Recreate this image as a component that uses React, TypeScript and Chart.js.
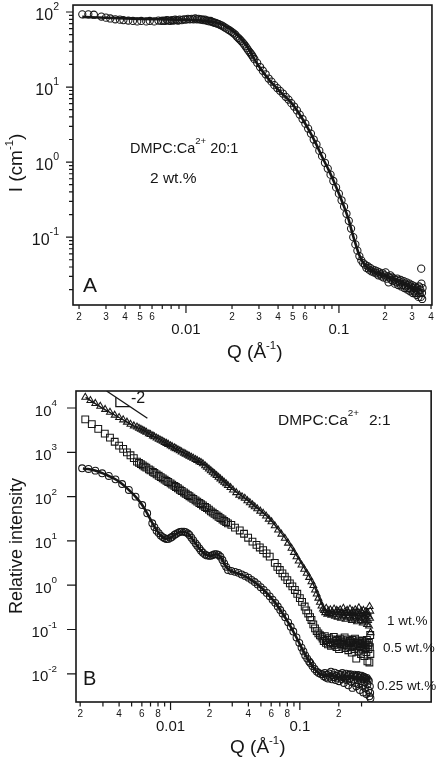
import React, { useEffect, useRef } from 'react';
import { Chart, registerables } from 'chart.js';

Chart.register(...registerables);

const INK = '#161616';
const FONT = '"Liberation Sans", Arial, Helvetica, sans-serif';

// ---------------- Panel A data: Q (1/Å), I (1/cm) ----------------
const A_DATA: [number, number][] = [
  [0.0021, 93], [0.0023, 93], [0.0025, 92], [0.0028, 87], [0.003, 84], [0.0032, 82], [0.00345, 80], [0.0037, 79],
  [0.0039, 78], [0.0042, 77], [0.0045, 76], [0.0048, 75], [0.0051, 76], [0.0055, 75], [0.0058, 76], [0.0062, 75],
  [0.0066, 77], [0.0069, 76], [0.0071, 77], [0.0073, 76], [0.0075, 78], [0.0077, 77], [0.0079, 76], [0.0081, 78],
  [0.0083, 77], [0.0085, 79], [0.0087, 78], [0.0089, 77], [0.0091, 79], [0.0094, 78], [0.0097, 80], [0.01, 79],
  [0.0103, 81], [0.0106, 80], [0.0109, 81], [0.0112, 80], [0.0115, 82], [0.0118, 80], [0.0121, 81], [0.0124, 79],
  [0.0127, 80], [0.013, 78], [0.0133, 79], [0.0136, 77], [0.0139, 77], [0.0142, 75], [0.0145, 76], [0.0148, 74],
  [0.0151, 73], [0.0154, 72], [0.0157, 71], [0.016, 70], [0.0164, 69], [0.0168, 67], [0.0172, 66], [0.0176, 64],
  [0.018, 62], [0.0185, 60], [0.019, 58], [0.0195, 56], [0.02, 54], [0.0205, 52], [0.021, 50], [0.0215, 47],
  [0.022, 45], [0.0225, 43], [0.023, 41], [0.0235, 39], [0.024, 37], [0.0245, 35], [0.025, 33], [0.0255, 31],
  [0.026, 29.5], [0.0265, 28], [0.027, 26.5], [0.0275, 25], [0.028, 23.5],
  [0.0292, 21], [0.0305, 18.5], [0.0318, 16.5], [0.0332, 14.8], [0.0347, 13], [0.0362, 11.8], [0.0378, 10.6],
  [0.0395, 9.7], [0.0412, 8.9], [0.043, 8.2], [0.0449, 7.4], [0.0468, 6.8], [0.0488, 6.1], [0.0509, 5.5],
  [0.0531, 4.9], [0.0554, 4.3], [0.0578, 3.75], [0.0603, 3.25], [0.0629, 2.8], [0.0656, 2.4], [0.0684, 2.0],
  [0.0713, 1.72], [0.0744, 1.42], [0.0776, 1.2], [0.081, 0.98], [0.0845, 0.82], [0.0881, 0.68], [0.0919, 0.56],
  [0.0958, 0.46], [0.0999, 0.38], [0.104, 0.31], [0.108, 0.255], [0.112, 0.205], [0.116, 0.165], [0.12, 0.13],
  [0.124, 0.1], [0.128, 0.08], [0.132, 0.066], [0.136, 0.056], [0.14, 0.049], [0.144, 0.045],
  [0.148, 0.043], [0.151, 0.039], [0.154, 0.041], [0.157, 0.037], [0.16, 0.039], [0.163, 0.035], [0.166, 0.037],
  [0.169, 0.034], [0.172, 0.036], [0.175, 0.033], [0.178, 0.035], [0.181, 0.031], [0.184, 0.034], [0.187, 0.032],
  [0.19, 0.03], [0.193, 0.033], [0.196, 0.029], [0.199, 0.031], [0.202, 0.034], [0.205, 0.028], [0.208, 0.03],
  [0.211, 0.025], [0.214, 0.029], [0.217, 0.031], [0.22, 0.027], [0.223, 0.029], [0.226, 0.026], [0.229, 0.028],
  [0.232, 0.024], [0.235, 0.027], [0.238, 0.025], [0.241, 0.028], [0.244, 0.023], [0.247, 0.026], [0.25, 0.024],
  [0.253, 0.027], [0.256, 0.022], [0.259, 0.025], [0.262, 0.023], [0.265, 0.026], [0.268, 0.021], [0.271, 0.024],
  [0.274, 0.022], [0.277, 0.025], [0.28, 0.02], [0.283, 0.023], [0.286, 0.021], [0.289, 0.024], [0.292, 0.019],
  [0.295, 0.022], [0.298, 0.02], [0.301, 0.023], [0.304, 0.018], [0.307, 0.021], [0.31, 0.019], [0.313, 0.022],
  [0.316, 0.018], [0.319, 0.02], [0.322, 0.017], [0.325, 0.021], [0.328, 0.019], [0.331, 0.016], [0.334, 0.022],
  [0.337, 0.018], [0.34, 0.02], [0.343, 0.016], [0.346, 0.024], [0.349, 0.018], [0.352, 0.021], [0.345, 0.038],
  [0.35, 0.015],
];

const A_FIT: [number, number][] = [
  [0.0021, 86], [0.003, 84], [0.005, 81], [0.008, 79.5], [0.011, 78.5], [0.0125, 77], [0.014, 75], [0.0155, 72.5],
  [0.0166, 70], [0.018, 65], [0.0202, 56], [0.0225, 46], [0.0245, 37], [0.0261, 30.5], [0.0274, 25.5], [0.029, 21],
  [0.0303, 18.3], [0.033, 14.5], [0.0355, 12], [0.0388, 9.9], [0.043, 8], [0.0474, 6.6], [0.051, 5.5], [0.055, 4.4],
  [0.0625, 2.85], [0.0706, 1.78], [0.078, 1.15], [0.0861, 0.77], [0.093, 0.54], [0.1, 0.38], [0.108, 0.255],
  [0.116, 0.168], [0.122, 0.115], [0.128, 0.083], [0.134, 0.062], [0.141, 0.049], [0.15, 0.041], [0.164, 0.036],
  [0.18, 0.033], [0.2, 0.03], [0.25, 0.026], [0.3, 0.022], [0.35, 0.0195],
];

// ---------------- Panel B data: Q (1/Å), relative intensity ----------------
const B_1WT: [number, number][] = [
  [0.00219, 17500], [0.0024, 14800], [0.00262, 12700], [0.00286, 10900], [0.00312, 9300], [0.0034, 8000],
  [0.0037, 6900], [0.004, 6100], [0.0043, 5400], [0.0046, 4800], [0.0049, 4300], [0.0052, 3950],
  [0.0055, 3710], [0.0057, 3500], [0.0059, 3310], [0.0061, 3140], [0.0063, 2980], [0.0065, 2830], [0.0068, 2630],
  [0.007, 2510], [0.0073, 2350], [0.0075, 2250], [0.0078, 2110], [0.0081, 1980], [0.0084, 1870], [0.0087, 1770],
  [0.009, 1670], [0.0093, 1590], [0.0096, 1510], [0.01, 1410], [0.0103, 1340], [0.0107, 1260], [0.011, 1210],
  [0.0114, 1140], [0.0118, 1080], [0.0122, 1020], [0.0127, 957], [0.0131, 910], [0.0136, 856], [0.014, 817],
  [0.0145, 772], [0.015, 731], [0.0156, 686], [0.0161, 652], [0.0167, 614], [0.0172, 586], [0.0178, 549],
  [0.0185, 498], [0.0191, 460], [0.0198, 420], [0.0205, 385], [0.0212, 353], [0.0219, 326], [0.0227, 298],
  [0.0235, 273], [0.0243, 251], [0.0252, 229], [0.026, 211], [0.0269, 194], [0.0278, 178],
  [0.0291, 160], [0.0304, 141], [0.0322, 123], [0.034, 108], [0.0357, 99], [0.0375, 91.6], [0.0393, 81],
  [0.0411, 73], [0.043, 65], [0.0448, 59], [0.0468, 53], [0.0494, 47], [0.052, 42], [0.0548, 36.5], [0.0575, 31],
  [0.0604, 27], [0.064, 22], [0.0679, 17.6], [0.072, 14.2], [0.0765, 11.5], [0.081, 8.9], [0.0862, 6.8],
  [0.09, 5.5], [0.0942, 4.4], [0.098, 3.5], [0.103, 2.86], [0.108, 2.3], [0.113, 1.86], [0.118, 1.5],
  [0.123, 1.2], [0.127, 0.98], [0.131, 0.78], [0.135, 0.63], [0.139, 0.51], [0.143, 0.41], [0.147, 0.34],
  [0.151, 0.29],
  [0.154, 0.27], [0.157, 0.24], [0.16, 0.3], [0.163, 0.22], [0.166, 0.26], [0.169, 0.23], [0.172, 0.28],
  [0.175, 0.21], [0.178, 0.25], [0.181, 0.22], [0.184, 0.29], [0.187, 0.2], [0.19, 0.24], [0.193, 0.27],
  [0.196, 0.19], [0.199, 0.25], [0.202, 0.22], [0.205, 0.28], [0.208, 0.18], [0.211, 0.24], [0.214, 0.21],
  [0.217, 0.3], [0.22, 0.2], [0.223, 0.25], [0.226, 0.17], [0.229, 0.23], [0.232, 0.27], [0.235, 0.19],
  [0.238, 0.24], [0.241, 0.21], [0.244, 0.29], [0.247, 0.18], [0.25, 0.23], [0.253, 0.16], [0.256, 0.26],
  [0.259, 0.2], [0.262, 0.24], [0.265, 0.17], [0.268, 0.28], [0.271, 0.19], [0.274, 0.23], [0.277, 0.15],
  [0.28, 0.25], [0.283, 0.2], [0.286, 0.31], [0.289, 0.18], [0.292, 0.22], [0.295, 0.16], [0.298, 0.26],
  [0.301, 0.19], [0.304, 0.23], [0.307, 0.14], [0.31, 0.27], [0.313, 0.18], [0.316, 0.21], [0.319, 0.15],
  [0.322, 0.25], [0.325, 0.17], [0.328, 0.22], [0.331, 0.13], [0.334, 0.24], [0.337, 0.16], [0.34, 0.2],
  [0.343, 0.12], [0.346, 0.33], [0.349, 0.18], [0.352, 0.085], [0.35, 0.26],
];

const B_05WT: [number, number][] = [
  [0.00219, 5560], [0.00246, 4330], [0.00276, 3370], [0.0031, 2630], [0.0034, 2140], [0.0037, 1730],
  [0.004, 1420], [0.0043, 1190], [0.0046, 1000], [0.0049, 857], [0.0052, 738],
  [0.0055, 616], [0.0057, 576], [0.0059, 539], [0.0061, 506], [0.0063, 476], [0.0065, 449], [0.0068, 412],
  [0.007, 390], [0.0073, 360], [0.0075, 342], [0.0078, 317], [0.0081, 295], [0.0084, 276], [0.0087, 258],
  [0.009, 242], [0.0093, 227], [0.0096, 214], [0.01, 198], [0.0103, 187], [0.0107, 174], [0.011, 165],
  [0.0114, 154], [0.0118, 143], [0.0122, 134], [0.0127, 124], [0.0131, 116], [0.0136, 108], [0.014, 102],
  [0.0145, 95], [0.015, 88.7], [0.0156, 82], [0.0161, 77], [0.0167, 71.6], [0.0172, 67.5], [0.0178, 63],
  [0.0185, 58.3], [0.0191, 54.7], [0.0198, 50.9], [0.0205, 46.5], [0.0212, 43.4], [0.0219, 40.6], [0.0227, 37.7],
  [0.0235, 35], [0.0243, 32.7], [0.0252, 30.4], [0.026, 28.4], [0.0269, 26.5], [0.0278, 24.8],
  [0.0295, 23], [0.0315, 20], [0.0343, 17.2], [0.037, 14.5], [0.0398, 11.8], [0.043, 9.6], [0.0462, 8.1],
  [0.049, 7.1], [0.052, 6.2], [0.0553, 5.2], [0.0585, 4.4], [0.064, 3.2], [0.067, 2.6], [0.07, 2.2],
  [0.0733, 1.85], [0.0765, 1.56], [0.08, 1.3], [0.0837, 1.1], [0.0875, 0.94], [0.0915, 0.78], [0.0955, 0.64],
  [0.1, 0.51], [0.104, 0.42], [0.109, 0.33], [0.112, 0.27], [0.116, 0.23], [0.12, 0.19], [0.123, 0.164],
  [0.127, 0.13], [0.131, 0.106], [0.135, 0.092], [0.139, 0.082], [0.143, 0.074], [0.147, 0.069],
  [0.15, 0.062], [0.153, 0.055], [0.156, 0.071], [0.159, 0.05], [0.162, 0.058], [0.165, 0.046], [0.168, 0.064],
  [0.171, 0.052], [0.174, 0.043], [0.177, 0.06], [0.18, 0.049], [0.183, 0.068], [0.186, 0.045], [0.189, 0.055],
  [0.192, 0.04], [0.195, 0.058], [0.198, 0.05], [0.201, 0.036], [0.204, 0.062], [0.207, 0.047], [0.21, 0.053],
  [0.213, 0.041], [0.216, 0.057], [0.219, 0.045], [0.222, 0.066], [0.225, 0.038], [0.228, 0.051], [0.231, 0.044],
  [0.234, 0.06], [0.237, 0.034], [0.24, 0.049], [0.243, 0.055], [0.246, 0.04], [0.249, 0.052], [0.252, 0.03],
  [0.255, 0.058], [0.258, 0.043], [0.261, 0.05], [0.264, 0.036], [0.267, 0.062], [0.27, 0.045], [0.273, 0.022],
  [0.276, 0.053], [0.279, 0.039], [0.282, 0.048], [0.285, 0.033], [0.288, 0.057], [0.291, 0.042], [0.294, 0.05],
  [0.297, 0.028], [0.3, 0.046], [0.303, 0.055], [0.306, 0.035], [0.309, 0.049], [0.312, 0.041], [0.315, 0.025],
  [0.318, 0.052], [0.321, 0.038], [0.324, 0.046], [0.327, 0.031], [0.33, 0.058], [0.333, 0.019], [0.336, 0.044],
  [0.339, 0.036], [0.342, 0.05], [0.345, 0.018], [0.348, 0.04], [0.351, 0.028], [0.35, 0.075],
];

const B_025WT: [number, number][] = [
  [0.00207, 436], [0.00232, 420], [0.00262, 385], [0.00296, 336], [0.00333, 292], [0.00375, 245], [0.00422, 192],
  [0.00476, 141], [0.00536, 99.5], [0.00604, 64.6], [0.0066, 42], [0.00722, 25],
  [0.0075, 20.5], [0.0078, 17], [0.0081, 15], [0.0084, 13.2], [0.0087, 12.2], [0.009, 11.5], [0.0093, 11],
  [0.0096, 11.1], [0.01, 11.8], [0.0103, 12.4], [0.0107, 13.6], [0.011, 14.3], [0.0114, 15.2], [0.0118, 15.9],
  [0.0122, 16.2], [0.0127, 16.1], [0.0131, 15.7], [0.0136, 14.8], [0.014, 13.6], [0.0145, 11.8], [0.015, 10.3],
  [0.0156, 8.8], [0.0161, 7.8], [0.0167, 6.8], [0.0172, 6], [0.0178, 5.4], [0.0185, 4.9], [0.0191, 4.7],
  [0.0198, 4.6], [0.0205, 4.6], [0.0212, 4.8], [0.0219, 5], [0.0227, 5], [0.0235, 4.8], [0.0243, 4.4],
  [0.0252, 3.7], [0.026, 3.1], [0.0269, 2.6], [0.0278, 2.2],
  [0.0295, 2.1], [0.0315, 2], [0.0335, 1.9], [0.0355, 1.75], [0.0377, 1.62], [0.04, 1.48], [0.0423, 1.32],
  [0.0447, 1.18], [0.0472, 1.04], [0.0498, 0.9], [0.0525, 0.78], [0.0555, 0.67], [0.0585, 0.56], [0.0615, 0.47],
  [0.0645, 0.4], [0.0675, 0.33], [0.0705, 0.275], [0.0735, 0.23], [0.077, 0.19], [0.0812, 0.145], [0.085, 0.115],
  [0.089, 0.09], [0.0942, 0.066], [0.099, 0.05], [0.103, 0.039], [0.1066, 0.032], [0.11, 0.026], [0.114, 0.022],
  [0.118, 0.019], [0.1205, 0.0175], [0.125, 0.015], [0.13, 0.0128], [0.1353, 0.0112], [0.14, 0.0104],
  [0.145, 0.0099],
  [0.15, 0.0098], [0.153, 0.0088], [0.156, 0.0105], [0.159, 0.0082], [0.162, 0.0095], [0.165, 0.0078],
  [0.168, 0.0102], [0.171, 0.0086], [0.174, 0.0112], [0.177, 0.0075], [0.18, 0.0093], [0.183, 0.0084],
  [0.186, 0.0106], [0.189, 0.0072], [0.192, 0.009], [0.195, 0.0081], [0.198, 0.0099], [0.201, 0.0068],
  [0.204, 0.0087], [0.207, 0.0096], [0.21, 0.0076], [0.213, 0.0104], [0.216, 0.0083], [0.219, 0.0062],
  [0.222, 0.0092], [0.225, 0.0079], [0.228, 0.0101], [0.231, 0.0071], [0.234, 0.0088], [0.237, 0.0055],
  [0.24, 0.0095], [0.243, 0.0078], [0.246, 0.0098], [0.249, 0.0066], [0.252, 0.0086], [0.255, 0.0048],
  [0.258, 0.0092], [0.261, 0.0074], [0.264, 0.0096], [0.267, 0.0062], [0.27, 0.0085], [0.273, 0.0052],
  [0.276, 0.009], [0.279, 0.0071], [0.282, 0.0094], [0.285, 0.0058], [0.288, 0.0082], [0.291, 0.0043],
  [0.294, 0.0088], [0.297, 0.0068], [0.3, 0.0091], [0.303, 0.0054], [0.306, 0.0079], [0.309, 0.0038],
  [0.312, 0.0086], [0.315, 0.0064], [0.318, 0.0083], [0.321, 0.0047], [0.324, 0.0077], [0.327, 0.0035],
  [0.33, 0.0081], [0.333, 0.0058], [0.336, 0.0074], [0.339, 0.0042], [0.342, 0.0069], [0.345, 0.0031],
  [0.348, 0.0052], [0.35, 0.0037], [0.352, 0.0028],
];

const B_1WT_FIT: [number, number][] = [
  [0.0022, 17300], [0.003, 9800], [0.004, 6100], [0.0052, 3950], [0.00604, 3190], [0.0081, 1980], [0.0109, 1230],
  [0.014, 820], [0.0176, 565], [0.022, 330], [0.0275, 185], [0.0304, 143], [0.0375, 93], [0.0448, 61], [0.052, 43],
  [0.0604, 28], [0.0679, 18.5], [0.0765, 12], [0.0862, 7.2], [0.0942, 4.8], [0.103, 3.1], [0.113, 2.0],
  [0.123, 1.28], [0.131, 0.85], [0.139, 0.56], [0.147, 0.38], [0.155, 0.29], [0.165, 0.26], [0.2, 0.245],
  [0.25, 0.235], [0.3, 0.225], [0.35, 0.215],
];

const B_025WT_FIT: [number, number][] = [
  [0.0021, 430], [0.0023, 418], [0.0026, 388], [0.003, 335], [0.0033, 295], [0.0038, 240], [0.0042, 195],
  [0.0048, 138], [0.0054, 97], [0.006, 66], [0.0066, 42], [0.0072, 26], [0.0078, 17.5], [0.0084, 13.2],
  [0.0092, 11.2], [0.01, 11.8], [0.0107, 13.5], [0.0115, 15.4], [0.0123, 16.2], [0.013, 15.8], [0.0137, 14.6],
  [0.0145, 11.8], [0.0156, 8.8], [0.0171, 6.2], [0.0187, 4.9], [0.0204, 4.6], [0.0223, 5.0], [0.0238, 4.7],
  [0.025, 3.9], [0.0262, 3.0], [0.0278, 2.3], [0.03, 2.05], [0.0343, 1.8], [0.04, 1.45], [0.0472, 1.03],
  [0.0555, 0.66], [0.0645, 0.4], [0.0735, 0.23], [0.0812, 0.145], [0.089, 0.09], [0.0942, 0.066], [0.1066, 0.032],
  [0.1205, 0.0175], [0.1353, 0.0112], [0.152, 0.0094], [0.18, 0.0088], [0.22, 0.0085], [0.27, 0.0082],
  [0.33, 0.0078], [0.35, 0.0076],
];

// slope "-2" guide
const SLOPE_LINE: [number, number][] = [[0.0032, 24200], [0.00662, 5850]];
const SLOPE_LEGS: [number, number][] = [[0.003776, 17500], [0.003776, 10700], [0.00486, 10700]];

// ---------------- axis ranges & ticks ----------------
const A_X_RANGE = [0.001826, 0.4055];
const A_Y_RANGE = [0.01247, 123.8];
const B_X_RANGE = [0.001857, 1.036];
const B_Y_RANGE = [0.002307, 24200];

const A_X_MINOR = [0.002, 0.003, 0.004, 0.005, 0.006, 0.007, 0.008, 0.009, 0.02, 0.03, 0.04, 0.05, 0.06, 0.07, 0.08, 0.09, 0.2, 0.3, 0.4];
const A_X_LABEL_AT = [0.002, 0.003, 0.004, 0.005, 0.006, 0.02, 0.03, 0.04, 0.05, 0.06, 0.2, 0.3, 0.4];
const A_X_LABELS = ['2', '3', '4', '5', '6', '2', '3', '4', '5', '6', '2', '3', '4'];
const A_X_MAJOR = [0.01, 0.1];
const A_X_MAJOR_LABELS = ['0.01', '0.1'];
const A_Y_MAJOR = [0.1, 1, 10, 100];
const A_Y_EXP = ['-1', '0', '1', '2'];
const A_Y_MINOR = [0.02, 0.03, 0.04, 0.05, 0.06, 0.07, 0.08, 0.09, 0.2, 0.3, 0.4, 0.5, 0.6, 0.7, 0.8, 0.9, 2, 3, 4, 5, 6, 7, 8, 9, 20, 30, 40, 50, 60, 70, 80, 90];

const B_X_MINOR = [0.002, 0.003, 0.004, 0.005, 0.006, 0.007, 0.008, 0.009, 0.02, 0.03, 0.04, 0.05, 0.06, 0.07, 0.08, 0.09, 0.2, 0.3];
const B_X_LABEL_AT = [0.002, 0.004, 0.006, 0.008, 0.02, 0.04, 0.06, 0.08, 0.2];
const B_X_LABELS = ['2', '4', '6', '8', '2', '4', '6', '8', '2'];
const B_X_MAJOR = [0.01, 0.1];
const B_X_MAJOR_LABELS = ['0.01', '0.1'];
const B_Y_MAJOR = [0.01, 0.1, 1, 10, 100, 1000, 10000];
const B_Y_EXP = ['-2', '-1', '0', '1', '2', '3', '4'];
const B_Y_MINOR: number[] = [];

// ---------------- drawing helpers ----------------
type Part = [string, boolean?];
const font = (px: number) => `${px}px ${FONT}`;

function drawRich(ctx: CanvasRenderingContext2D, parts: Part[], x: number, y: number, size: number,
  align: 'left' | 'center' | 'right' = 'left', supScale = 0.62, raise = 0.45) {
  let w = 0;
  for (const [t, sup] of parts) { ctx.font = font(sup ? size * supScale : size); w += ctx.measureText(t).width; }
  let cx = align === 'left' ? x : align === 'center' ? x - w / 2 : x - w;
  ctx.textAlign = 'left';
  ctx.textBaseline = 'alphabetic';
  for (const [t, sup] of parts) {
    const s = sup ? size * supScale : size;
    ctx.font = font(s);
    ctx.fillText(t, cx, sup ? y - size * raise : y);
    cx += ctx.measureText(t).width;
  }
}

interface AxisSpec {
  id: string;
  xMinor: number[]; xLabelAt: number[]; xLabels: string[]; xMajor: number[]; xMajorLabels: string[];
  yMajor: number[]; yExp: string[]; yMinor: number[];
  xMinorLen: number; xMajorLen: number; yMinorLen: number; yMajorLen: number;
  yLabelGap: number; yLabelSize: number;
  notes: (ctx: CanvasRenderingContext2D, a: any) => void;
}

function makeDecor(spec: AxisSpec) {
  return {
    id: 'decor_' + spec.id,
    afterDraw(chart: any) {
      const { ctx, chartArea: a, scales } = chart;
      const xs = scales.x, ys = scales.y;
      const inX = (v: number) => v >= xs.min && v <= xs.max;
      const inY = (v: number) => v >= ys.min && v <= ys.max;
      ctx.save();
      ctx.strokeStyle = INK;
      ctx.fillStyle = INK;
      ctx.lineWidth = 1.6;
      ctx.strokeRect(a.left, a.top, a.right - a.left, a.bottom - a.top);

      ctx.lineWidth = 1.2;
      ctx.beginPath();
      for (const v of spec.xMinor) if (inX(v)) {
        const px = xs.getPixelForValue(v); ctx.moveTo(px, a.bottom); ctx.lineTo(px, a.bottom + spec.xMinorLen);
      }
      for (const v of spec.xMajor) if (inX(v)) {
        const px = xs.getPixelForValue(v); ctx.moveTo(px, a.bottom); ctx.lineTo(px, a.bottom + spec.xMajorLen);
      }
      for (const v of spec.yMinor) if (inY(v)) {
        const py = ys.getPixelForValue(v); ctx.moveTo(a.left, py); ctx.lineTo(a.left - spec.yMinorLen, py);
      }
      for (const v of spec.yMajor) if (inY(v)) {
        const py = ys.getPixelForValue(v); ctx.moveTo(a.left, py); ctx.lineTo(a.left - spec.yMajorLen, py);
      }
      ctx.stroke();

      ctx.textAlign = 'center';
      ctx.textBaseline = 'middle';
      ctx.font = font(10);
      spec.xLabelAt.forEach((v, i) => {
        if (inX(v)) ctx.fillText(spec.xLabels[i], xs.getPixelForValue(v), a.bottom + 12.5);
      });
      ctx.font = font(15);
      spec.xMajor.forEach((v, i) => {
        if (inX(v)) ctx.fillText(spec.xMajorLabels[i], xs.getPixelForValue(v), a.bottom + 25);
      });

      spec.yMajor.forEach((v, i) => {
        if (!inY(v)) return;
        const py = ys.getPixelForValue(v);
        drawRich(ctx, [['10'], [spec.yExp[i], true]], a.left - spec.yLabelGap, py + 7.5, spec.yLabelSize, 'right', 0.66, 0.62);
      });

      spec.notes(ctx, a);
      ctx.restore();
    },
  };
}

const pts = (arr: [number, number][]) => arr.map(([x, y]) => ({ x, y }));

function lineDs(arr: [number, number][], width: number) {
  return {
    data: pts(arr), showLine: true, pointRadius: 0, borderColor: INK, borderWidth: width,
    cubicInterpolationMode: 'monotone', fill: false,
  };
}
function markerDs(arr: [number, number][], style: string, radius: number) {
  return {
    data: pts(arr), showLine: false, pointStyle: style, pointRadius: radius,
    pointBorderColor: INK, pointBackgroundColor: 'rgba(0,0,0,0)', pointBorderWidth: 1.05,
  };
}

function baseOptions(xr: number[], yr: number[], padding: any) {
  return {
    animation: false, responsive: false, devicePixelRatio: 1, events: [],
    layout: { padding },
    plugins: { legend: { display: false }, tooltip: { enabled: false } },
    scales: {
      x: { type: 'logarithmic', min: xr[0], max: xr[1], display: false },
      y: { type: 'logarithmic', min: yr[0], max: yr[1], display: false },
    },
  };
}

function panelAConfig(): any {
  const decor = makeDecor({
    id: 'A',
    xMinor: A_X_MINOR, xLabelAt: A_X_LABEL_AT, xLabels: A_X_LABELS, xMajor: A_X_MAJOR, xMajorLabels: A_X_MAJOR_LABELS,
    yMajor: A_Y_MAJOR, yExp: A_Y_EXP, yMinor: A_Y_MINOR,
    xMinorLen: 4, xMajorLen: 8, yMinorLen: 4, yMajorLen: 7, yLabelGap: 14, yLabelSize: 16,
    notes: (ctx, a) => {
      drawRich(ctx, [['DMPC:Ca'], ['2+', true], [' 20:1']], 130, 153, 14.5, 'left', 0.66, 0.6);
      ctx.textAlign = 'left'; ctx.textBaseline = 'alphabetic';
      ctx.font = font(15.5);
      ctx.fillText('2 wt.%', 150, 183);
      ctx.font = font(21);
      ctx.fillText('A', 83, 292);
      drawRich(ctx, [['Q (Å'], ['-1', true], [')']], 227, 358, 19, 'left', 0.6, 0.45);
      ctx.save();
      ctx.translate(22, 163);
      ctx.rotate(-Math.PI / 2);
      drawRich(ctx, [['I (cm'], ['-1', true], [')']], 0, 0, 19, 'center', 0.6, 0.45);
      ctx.restore();
    },
  });
  return {
    type: 'scatter',
    data: { datasets: [lineDs(A_FIT, 2.6), markerDs(A_DATA, 'circle', 3.6)] },
    options: baseOptions(A_X_RANGE, A_Y_RANGE, { left: 73, top: 4, right: 5, bottom: 73 }),
    plugins: [decor],
  };
}

function panelBConfig(): any {
  const decor = makeDecor({
    id: 'B',
    xMinor: B_X_MINOR, xLabelAt: B_X_LABEL_AT, xLabels: B_X_LABELS, xMajor: B_X_MAJOR, xMajorLabels: B_X_MAJOR_LABELS,
    yMajor: B_Y_MAJOR, yExp: B_Y_EXP, yMinor: B_Y_MINOR,
    xMinorLen: 4.5, xMajorLen: 8, yMinorLen: 4, yMajorLen: 9, yLabelGap: 19, yLabelSize: 15,
    notes: (ctx, a) => {
      drawRich(ctx, [['DMPC:Ca'], ['2+', true]], 278, 47, 15.5, 'left', 0.64, 0.58);
      ctx.font = font(15.5); ctx.textAlign = 'left'; ctx.textBaseline = 'alphabetic';
      ctx.fillText('2:1', 369, 47);
      ctx.font = font(16);
      ctx.fillText('-2', 131, 25);
      ctx.font = font(20);
      ctx.fillText('B', 83, 307);
      ctx.font = font(13.5);
      ctx.fillText('1 wt.%', 387, 247);
      ctx.fillText('0.5 wt.%', 383, 274);
      ctx.fillText('0.25 wt.%', 377, 312);
      drawRich(ctx, [['Q (Å'], ['-1', true], [')']], 230, 375, 19, 'left', 0.6, 0.45);
      ctx.save();
      ctx.translate(22, 168);
      ctx.rotate(-Math.PI / 2);
      drawRich(ctx, [['Relative intensity']], 0, 0, 18, 'center');
      ctx.restore();
    },
  });
  return {
    type: 'scatter',
    data: {
      datasets: [
        lineDs(B_1WT_FIT, 1.4),
        lineDs(B_025WT_FIT, 2.6),
        lineDs(SLOPE_LINE, 1.3),
        { ...lineDs(SLOPE_LEGS, 1.3), cubicInterpolationMode: 'default', tension: 0 },
        markerDs(B_1WT, 'triangle', 4),
        markerDs(B_05WT, 'rect', 4.8),
        markerDs(B_025WT, 'circle', 3.4),
      ],
    },
    options: baseOptions(B_X_RANGE, B_Y_RANGE, { left: 76, top: 13, right: 4, bottom: 55 }),
    plugins: [decor],
  };
}

export default function App() {
  const topRef = useRef<HTMLCanvasElement>(null);
  const botRef = useRef<HTMLCanvasElement>(null);
  useEffect(() => {
    document.body.style.margin = '0';
    const c1 = new Chart(topRef.current as HTMLCanvasElement, panelAConfig());
    const c2 = new Chart(botRef.current as HTMLCanvasElement, panelBConfig());
    return () => { c1.destroy(); c2.destroy(); };
  }, []);
  return (
    <div style={{ position: 'fixed', left: 0, top: 0, width: 437, height: 757, background: '#fff', overflow: 'hidden' }}>
      <canvas ref={topRef} width={437} height={378}
        style={{ position: 'absolute', left: 0, top: 0, width: 437, height: 378 }} />
      <canvas ref={botRef} width={437} height={379}
        style={{ position: 'absolute', left: 0, top: 378, width: 437, height: 379 }} />
    </div>
  );
}
